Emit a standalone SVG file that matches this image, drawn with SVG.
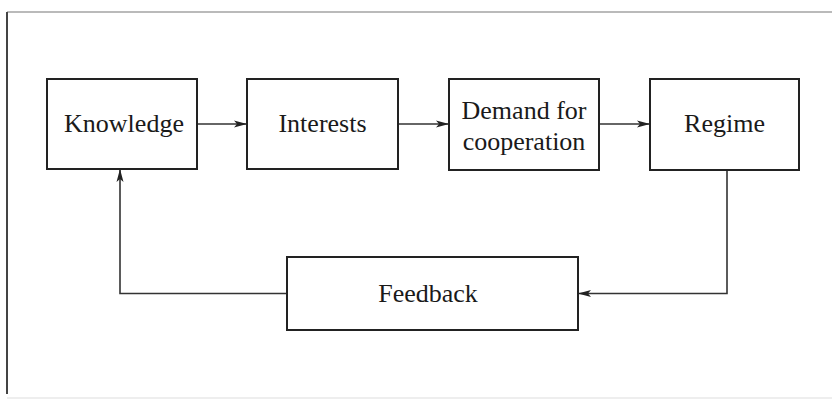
<svg xmlns="http://www.w3.org/2000/svg" width="832" height="401" viewBox="0 0 832 401">
  <defs>
    <marker id="arrow" markerWidth="14" markerHeight="10" refX="13" refY="5" orient="auto" markerUnits="userSpaceOnUse">
      <path d="M0,1.5 L13,5 L0,8.5 L3,5 Z" fill="#222"/>
    </marker>
  </defs>
  <style>
    .box { fill: #fff; stroke: #222; stroke-width: 2; }
    .label { font-family: "Liberation Serif", "Times New Roman", serif; font-size: 26px; fill: #1a1a1a; text-anchor: middle; }
    .conn { fill: none; stroke: #333; stroke-width: 1.6; }
    .frame { fill: none; stroke: #777; stroke-width: 1.2; }
  </style>
  <rect width="832" height="401" fill="#fff"/>
  <g id="frame">
    <line class="frame" x1="7" y1="12" x2="832" y2="12"/>
    <line x1="7" y1="12" x2="7" y2="394" stroke="#444" stroke-width="2"/>
    <line x1="7" y1="398" x2="832" y2="398" stroke="#ddd" stroke-width="1"/>
  </g>
  <g id="connectors">
    <line class="conn" x1="197" y1="124" x2="247" y2="124" marker-end="url(#arrow)"/>
    <line class="conn" x1="398" y1="124" x2="449" y2="124" marker-end="url(#arrow)"/>
    <line class="conn" x1="599" y1="124" x2="650" y2="124" marker-end="url(#arrow)"/>
    <polyline class="conn" points="727,170 727,293.5 578,293.5" marker-end="url(#arrow)"/>
    <polyline class="conn" points="287,293.5 120,293.5 120,169" marker-end="url(#arrow)"/>
  </g>
  <g id="knowledge">
    <rect class="box" x="47" y="79" width="150" height="90"/>
    <text class="label" x="124" y="132">Knowledge</text>
  </g>
  <g id="interests">
    <rect class="box" x="247" y="79" width="151" height="90"/>
    <text class="label" x="322.5" y="132">Interests</text>
  </g>
  <g id="demand">
    <rect class="box" x="449" y="79" width="150" height="91"/>
    <text class="label" x="524" y="119">Demand for</text>
    <text class="label" x="524" y="150">cooperation</text>
  </g>
  <g id="regime">
    <rect class="box" x="650" y="79" width="149" height="91"/>
    <text class="label" x="724.5" y="132">Regime</text>
  </g>
  <g id="feedback">
    <rect class="box" x="287" y="257" width="291" height="73"/>
    <text class="label" x="428" y="302">Feedback</text>
  </g>
</svg>
